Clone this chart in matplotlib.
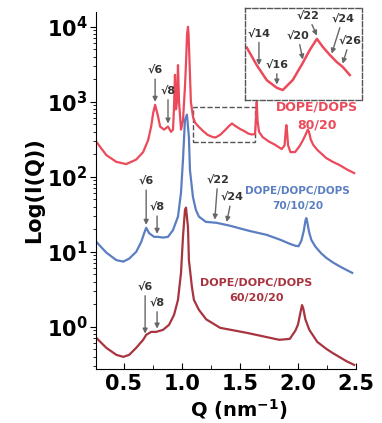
import numpy as np
import matplotlib
matplotlib.use('Agg')
import matplotlib.pyplot as plt
from matplotlib.ticker import MultipleLocator, LogLocator, NullFormatter
from matplotlib.patches import Rectangle

plt.rcParams['font.family'] = ['DejaVu Sans']
plt.rcParams['font.weight'] = 'bold'
plt.rcParams['mathtext.fontset'] = 'dejavusans'
plt.rcParams['mathtext.default'] = 'bf'

# DOPE/DOPS 80/20  (Q in nm^-1, log10 intensity)
q_8020 = [0.264, 0.35, 0.436, 0.521, 0.607, 0.667, 0.71, 0.736, 0.753, 0.77, 0.783, 0.796,
          0.813, 0.847, 0.881, 0.907, 0.924, 0.932, 0.941, 0.95, 0.958, 0.967, 0.976, 0.993,
          1.01, 1.027, 1.037, 1.045, 1.053, 1.058, 1.066, 1.078, 1.096, 1.115, 1.138, 1.18,
          1.222, 1.264, 1.289, 1.331, 1.373, 1.402, 1.432, 1.457, 1.486, 1.515, 1.54, 1.57,
          1.60, 1.63, 1.638, 1.645, 1.652, 1.665, 1.696, 1.75, 1.80, 1.86, 1.885, 1.895,
          1.90, 1.905, 1.915, 1.935, 1.975, 2.01, 2.04, 2.065, 2.085, 2.095, 2.11, 2.13,
          2.166, 2.244, 2.30, 2.355, 2.42, 2.484]
logI_8020 = [2.467, 2.29, 2.20, 2.17, 2.23, 2.33, 2.49, 2.67, 2.85, 2.96, 2.88, 2.80,
             2.67, 2.63, 2.67, 2.60, 2.63, 2.90, 3.36, 2.90, 3.00, 3.49, 3.00, 2.63,
             2.75, 3.20, 3.55, 3.90, 4.00, 3.90, 3.55, 3.00, 2.80, 2.72, 2.68, 2.615,
             2.56, 2.532, 2.524, 2.561, 2.624, 2.671, 2.712, 2.682, 2.653, 2.627, 2.609, 2.579,
             2.565, 2.57, 2.75, 3.00, 2.75, 2.60, 2.53, 2.47, 2.43, 2.37, 2.42, 2.62,
             2.69, 2.62, 2.42, 2.33, 2.33, 2.40, 2.48, 2.56, 2.63, 2.60, 2.50, 2.43,
             2.36, 2.25, 2.20, 2.16, 2.10, 2.05]

# DOPE/DOPC/DOPS 70/10/20
q_701020 = [0.264, 0.35, 0.436, 0.496, 0.547, 0.607, 0.65, 0.676, 0.693, 0.718, 0.761, 0.796,
            0.838, 0.881, 0.924, 0.967, 0.993, 1.01, 1.027, 1.044, 1.061, 1.07, 1.096, 1.121,
            1.147, 1.207, 1.30, 1.41, 1.58, 1.73, 1.85, 1.93, 1.98, 2.005, 2.03, 2.05, 2.065,
            2.072, 2.08, 2.095, 2.115, 2.15, 2.20, 2.244, 2.30, 2.355, 2.41, 2.467]
logI_701020 = [1.133, 0.99, 0.89, 0.87, 0.91, 1.00, 1.13, 1.25, 1.32, 1.25, 1.20, 1.20,
               1.19, 1.20, 1.29, 1.47, 1.79, 2.23, 2.76, 2.83, 2.53, 2.09, 1.73, 1.56,
               1.47, 1.40, 1.387, 1.35, 1.28, 1.227, 1.16, 1.107, 1.08, 1.075, 1.15, 1.28, 1.42,
               1.45, 1.40, 1.27, 1.16, 1.07, 0.98, 0.92, 0.86, 0.81, 0.765, 0.72]

# DOPE/DOPC/DOPS 60/20/20
q_602020 = [0.264, 0.35, 0.436, 0.496, 0.547, 0.607, 0.667, 0.693, 0.736, 0.779, 0.838, 0.89,
            0.933, 0.967, 0.993, 1.01, 1.027, 1.036, 1.053, 1.061, 1.087, 1.104, 1.147, 1.21,
            1.33, 1.56, 1.84, 1.93, 1.978, 2.00, 2.02, 2.035, 2.045, 2.064, 2.098, 2.166,
            2.244, 2.30, 2.355, 2.42, 2.484]
logI_602020 = [-0.147, -0.28, -0.373, -0.40, -0.373, -0.28, -0.173, -0.107, -0.067, -0.067, -0.04,
               0.027, 0.16, 0.36, 0.72, 1.20, 1.56, 1.59, 1.33, 0.89, 0.53, 0.36, 0.227, 0.10,
               -0.013, -0.08, -0.173, -0.16, -0.05, 0.03, 0.18, 0.29, 0.25, 0.10, -0.04, -0.20,
               -0.293, -0.35, -0.40, -0.46, -0.507]

# peak index labels and their Q positions
labels_8020 = ['√6', '√8']
qpk_8020 = [0.77, 0.881]
labels_701020 = ['√6', '√8', '√22', '√24']
qpk_701020 = [0.693, 0.787, 1.284, 1.387]
labels_602020 = ['√6', '√8']
qpk_602020 = [0.684, 0.787]
labels_inset = ['√14', '√16', '√20', '√22', '√24', '√26']
qpk_inset = [1.189, 1.264, 1.373, 1.432, 1.494, 1.54]

xticks = [0.5, 1.0, 1.5, 2.0, 2.5]
ytick_exp = [0, 1, 2, 3, 4]

c_8020 = '#ec4a5a'
c_701020 = '#5b7ec2'
c_602020 = '#a8343f'


def mark(ax, q, logI, lab, qpk, dy, dx=0, gap=0.04):
    y = 10 ** (np.interp(qpk, q, logI) + gap)
    ax.annotate(lab, xy=(qpk, y), xytext=(dx * 0.72, dy * 0.72), textcoords='offset points',
                ha='center', va='center', fontsize=8, color='#333333', fontweight='bold',
                arrowprops=dict(arrowstyle='-|>', color='#666666', lw=1.0, mutation_scale=7,
                                shrinkA=1, shrinkB=0))


fig = plt.figure(figsize=(3.82, 4.23), dpi=100)
ax = fig.add_axes([0.251, 0.128, 0.681, 0.844])

ax.plot(q_8020, 10 ** np.array(logI_8020), color=c_8020, lw=1.6)
ax.plot(q_701020, 10 ** np.array(logI_701020), color=c_701020, lw=1.6)
ax.plot(q_602020, 10 ** np.array(logI_602020), color=c_602020, lw=1.6)

ax.set_yscale('log')
ax.set_xlim(0.26, 2.5)
ax.set_ylim(10 ** -0.56, 10 ** 4.2)
ax.spines['top'].set_visible(False)
ax.spines['right'].set_visible(False)

ax.set_xticks(xticks)
ax.set_xticklabels(['%.1f' % v for v in xticks])
ax.xaxis.set_minor_locator(MultipleLocator(0.25))
ax.set_yticks([10.0 ** e for e in ytick_exp])
ax.set_yticklabels([r'$10^{%d}$' % e for e in ytick_exp])
ax.yaxis.set_minor_locator(LogLocator(base=10, subs=np.arange(2, 10)))
ax.yaxis.set_minor_formatter(NullFormatter())
ax.tick_params(axis='x', which='both', direction='in', labelsize=15, pad=4)
ax.tick_params(axis='x', which='major', length=4)
ax.tick_params(axis='x', which='minor', length=3)
ax.tick_params(axis='y', which='major', direction='out', length=4, labelsize=15, pad=2)
ax.tick_params(axis='y', which='minor', direction='out', length=2)

ax.set_xlabel(r'Q (nm$^{-1}$)', fontsize=14, fontweight='bold')
ax.xaxis.set_label_coords(0.55, -0.08)
ax.set_ylabel('Log(I(Q))', fontsize=15, fontweight='bold', labelpad=2)

# peak arrows
for lab, qp, dy in zip(labels_8020, qpk_8020, [-32, -33]):
    mark(ax, q_8020, logI_8020, lab, qp, -dy)
for lab, qp, dy, dx in zip(labels_701020, qpk_701020, [-44, -27, -40, -25], [0, 0, 3, 5]):
    mark(ax, q_701020, logI_701020, lab, qp, -dy, dx)
for lab, qp, dy in zip(labels_602020, qpk_602020, [-47, -26]):
    mark(ax, q_602020, logI_602020, lab, qp, -dy)

# sample names
ax.text(2.167, 10 ** 2.81, 'DOPE/DOPS\n80/20', color=c_8020, fontsize=9, ha='center',
        va='center', linespacing=1.5, fontweight='bold')
ax.text(1.995, 10 ** 1.707, 'DOPE/DOPC/DOPS\n70/10/20', color=c_701020, fontsize=7.5,
        ha='center', va='center', linespacing=1.6, fontweight='bold')
ax.text(1.644, 10 ** 0.49, 'DOPE/DOPC/DOPS\n60/20/20', color=c_602020, fontsize=8,
        ha='center', va='center', linespacing=1.6, fontweight='bold')

# dashed box marking zoomed region
ax.add_patch(Rectangle((1.095, 10 ** 2.47), 0.532, 10 ** 2.93 - 10 ** 2.47, fill=False,
                       ls='--', lw=1.0, ec='#555555'))

# inset with zoomed region
ax_in = fig.add_axes([0.641, 0.764, 0.306, 0.2175])
ax_in.set_facecolor('none')
qa = np.array(q_8020)
mask = (qa > 1.12) & (qa < 1.59)
ax_in.plot(qa[mask], 10 ** np.array(logI_8020)[mask], color=c_8020, lw=1.8)
ax_in.set_yscale('log')
ax_in.set_xlim(1.13, 1.62)
ax_in.set_ylim(10 ** 2.488, 10 ** 2.826)
ax_in.set_xticks([])
ax_in.set_yticks([])
ax_in.minorticks_off()
for s in ax_in.spines.values():
    s.set_linestyle('--')
    s.set_edgecolor('#555555')
    s.set_linewidth(1.0)
for lab, qp, dy, dx in zip(labels_inset, qpk_inset, [-32, -20, -24, -20, -35, -23],
                           [0, 0, -5, -9, 11, 7]):
    mark(ax_in, q_8020, logI_8020, lab, qp, -dy, dx, gap=0.012)

fig.savefig('out.png', dpi=100)
